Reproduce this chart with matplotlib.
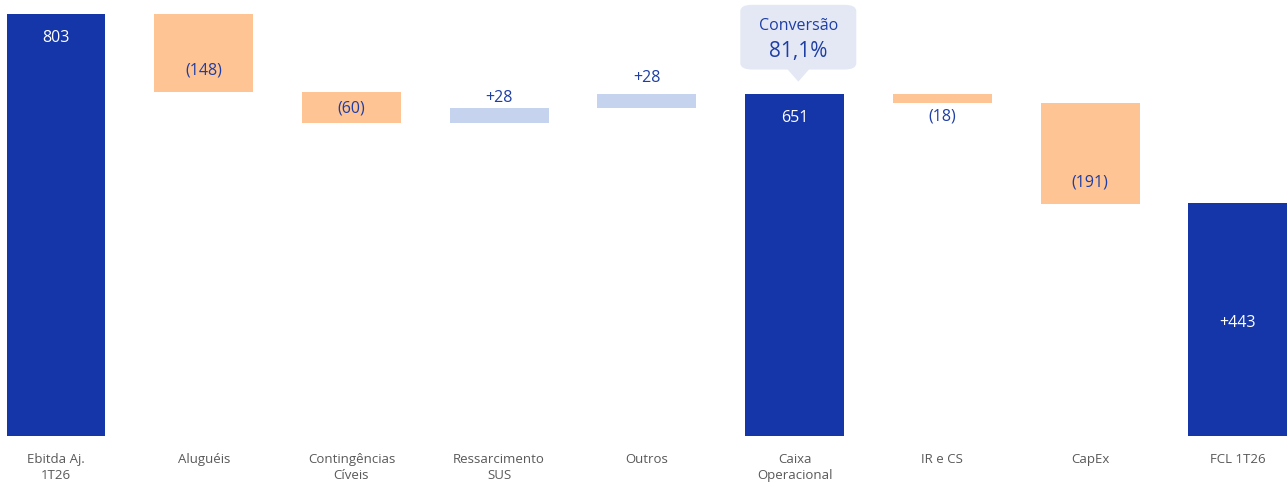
import matplotlib.pyplot as plt
from matplotlib.patches import FancyBboxPatch, Polygon

# Data
categories = ['Ebitda Aj.\n1T26', 'Aluguéis', 'Contingências\nCíveis', 'Ressarcimento\nSUS',
              'Outros', 'Caixa\nOperacional', 'IR e CS', 'CapEx', 'FCL 1T26']
values = [803, -148, -60, 28, 28, 651, -18, -191, 443]
kinds = ['total', 'delta', 'delta', 'delta', 'delta', 'total', 'delta', 'delta', 'total']
labels = ['803', '(148)', '(60)', '+28', '+28', '651', '(18)', '(191)', '+443']
conversion_title = 'Conversão'
conversion_value = '81,1%'

dark_blue = '#1536A8'
orange = '#FEC494'
light_blue = '#C5D3EF'
text_blue = '#1E3EA6'
grey = '#595959'

plt.rcParams['font.family'] = ['Open Sans', 'DejaVu Sans']

# Compute waterfall bottoms/heights
bottoms, heights, colors = [], [], []
running = 0
for v, k in zip(values, kinds):
    if k == 'total':
        bottoms.append(0)
        heights.append(v)
        colors.append(dark_blue)
        running = v
    else:
        if v < 0:
            bottoms.append(running + v)
            colors.append(orange)
        else:
            bottoms.append(running)
            colors.append(light_blue)
        heights.append(abs(v))
        running += v

fig = plt.figure(figsize=(12.87, 4.85), dpi=100)
ax = fig.add_axes([0, 46 / 485, 1, 439 / 485])
x = list(range(len(categories)))
ax.bar(x, heights, bottom=bottoms, color=colors, width=0.67, zorder=2)

ax.set_xlim(-0.379, 8.333)
ax.set_ylim(-3, 831)
for s in ax.spines.values():
    s.set_visible(False)
ax.set_yticks([])
ax.set_xticks(x)
ax.set_xticklabels(categories, fontsize=9.5, color=grey, linespacing=1.35)
ax.tick_params(axis='x', length=0, pad=10)

# Value labels
for i, (b, h, k, v, lab) in enumerate(zip(bottoms, heights, kinds, values, labels)):
    top = b + h
    if k == 'total':
        if i == len(values) - 1:
            y = b + h / 2 - 4
        else:
            y = top - 45
        ax.text(i, y, lab, ha='center', va='center', color='white', fontsize=11.5)
    elif v < 0:
        if h >= 100:
            y = b + 42
        elif h >= 40:
            y = b + h / 2
        else:
            y = b - 24
        ax.text(i, y, lab, ha='center', va='center', color=text_blue, fontsize=11.5)
    else:
        y = top + (22 if i == 3 else 32)
        ax.text(i, y, lab, ha='center', va='center', color=text_blue, fontsize=11.5)

# Conversion callout above "Caixa Operacional"
ci = 5
cx = ci + 0.025
base = values[ci]
box_w = 0.785
box = FancyBboxPatch((cx - box_w / 2, base + 46), box_w, 123,
                     boxstyle='round,pad=0,rounding_size=0.08',
                     mutation_aspect=150, facecolor='#E4E8F4', edgecolor='none', zorder=3)
ax.add_patch(box)
ax.add_patch(Polygon([(cx - 0.075, base + 47), (cx + 0.075, base + 47), (cx, base + 23)],
                     closed=True, facecolor='#E4E8F4', edgecolor='none', zorder=3))
ax.text(cx, base + 131, conversion_title, ha='center', va='center', color=text_blue,
        fontsize=11.5, zorder=4)
ax.text(cx, base + 83, conversion_value, ha='center', va='center', color=text_blue,
        fontsize=15, zorder=4)

fig.savefig('out.png', dpi=100)
